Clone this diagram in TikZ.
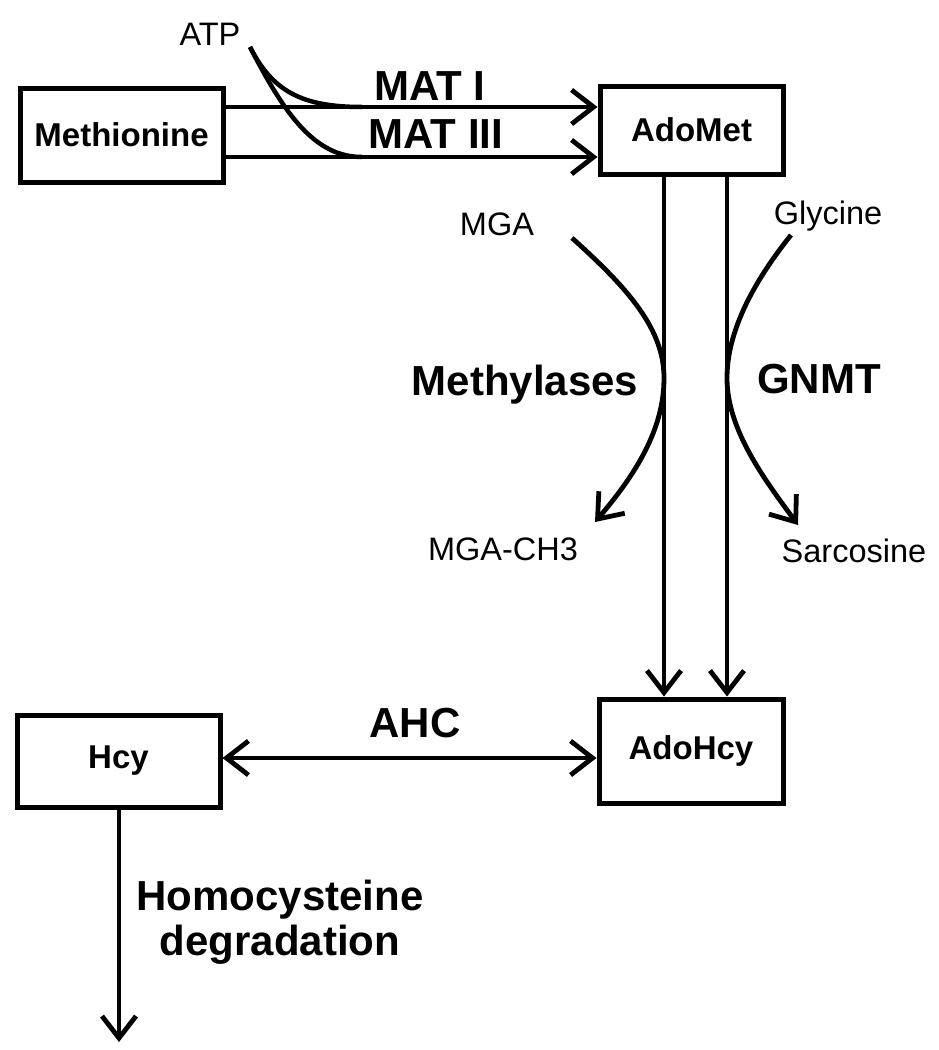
\documentclass[tikz,border=0pt]{standalone}
\usepackage{fontspec}
\setmainfont{Liberation Sans}
\usetikzlibrary{arrows.meta}
\begin{document}
\begin{tikzpicture}[x=1pt,y=-1pt,
  box/.style={draw,line width=5pt,minimum width=#1,inner sep=0pt,font=\fontsize{33}{38}\selectfont\bfseries},
  small/.style={font=\fontsize{32.5}{38}\selectfont,inner sep=0pt,anchor=base},
  big/.style={font=\fontsize{42}{48}\selectfont\bfseries,inner sep=0pt,anchor=base},
  conn/.style={line width=4.5pt},
  arr/.style={line width=4.8pt,-{Straight Barb[length=22pt,width=34pt]}},
  darr/.style={line width=4.8pt,{Straight Barb[length=22pt,width=34pt]}-{Straight Barb[length=22pt,width=34pt]}}
]
\useasboundingbox (0,0) rectangle (938,1050);
% boxes
\node[box=203pt,minimum height=94pt] (meth) at (121.5,135) {Methionine};
\node[box=183pt,minimum height=88pt] (adomet) at (691.5,130) {AdoMet};
\node[box=184pt,minimum height=104pt] (adohcy) at (691,751) {AdoHcy};
\node[box=203pt,minimum height=92pt] (hcy) at (118.5,761) {Hcy};
% helper coordinates
\coordinate (ymat1) at (0,107);
\coordinate (ymat3) at (0,157);
\coordinate (xl) at (664,0);
\coordinate (xr) at (727,0);
\coordinate (yahc) at (0,758);
\coordinate (degend) at (119,1042);
\coordinate (atps) at (250,47);
\coordinate (m1) at (362,107);
\coordinate (m3) at (362,157);
% MAT arrows
\draw[arr] (meth.east |- ymat1) -- (adomet.west |- ymat1);
\draw[arr] (meth.east |- ymat3) -- (adomet.west |- ymat3);
% ATP curves
\draw[conn] (atps) .. controls (272,90) and (300,107) .. (m1);
\draw[conn] (atps) .. controls (285,115) and (315,157) .. (m3);
% vertical arrows
\draw[arr] (adomet.south -| xl) -- (adohcy.north -| xl);
\draw[arr] (adomet.south -| xr) -- (adohcy.north -| xr);
% side curves
\coordinate (mgas) at (572,238);
\coordinate (mgat) at (664,378);
\coordinate (mgae) at (595,522);
\draw[arr] (mgas) .. controls (630,290) and (664,330) .. (mgat) .. controls (664,430) and (635,475) .. (mgae);
\coordinate (glys) at (791,235);
\coordinate (glyt) at (727,378);
\coordinate (glye) at (798,525);
\draw[arr] (glys) .. controls (755,280) and (727,330) .. (glyt) .. controls (727,430) and (765,480) .. (glye);
% AHC
\draw[darr] (hcy.east |- yahc) -- (adohcy.west |- yahc);
% degradation
\draw[arr] (hcy.south -| degend) -- (degend);
% labels
\node[small] (atp) at (210,45) {ATP};
\node[big] (mat1) at (430,100) {MAT I};
\node[big] (mat3) at (436,148) {MAT III};
\node[small] (mga) at (497,235) {MGA};
\node[small] (gly) at (828,224) {Glycine};
\node[big] (methyl) at (525,395) {Methylases};
\node[big] (gnmt) at (819,393) {GNMT};
\node[small] (mgach) at (503,560) {MGA-CH3};
\node[small] (sarc) at (854,562) {Sarcosine};
\node[big] (ahc) at (415,737) {AHC};
\node[big] (hd1) at (280,910) {Homocysteine};
\node[big] (hd2) at (280,955) {degradation};
\end{tikzpicture}
\end{document}
